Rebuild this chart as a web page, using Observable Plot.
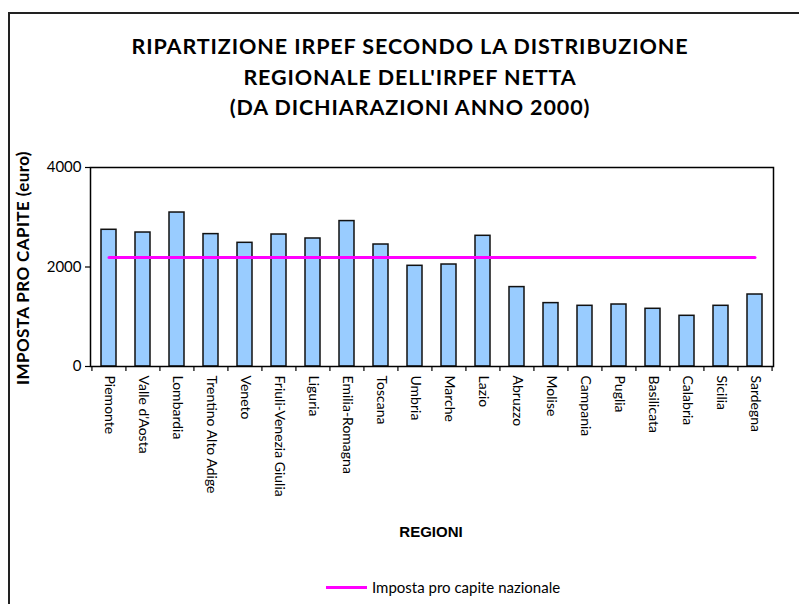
<!DOCTYPE html>
<html>
<head>
<meta charset="utf-8">
<script src="https://cdn.jsdelivr.net/npm/d3@7"></script>
<script src="https://cdn.jsdelivr.net/npm/@observablehq/plot@0.6"></script>
<style>
  html, body { margin: 0; padding: 0; background: #fff; }
  #wrap { position: relative; width: 799px; height: 604px; overflow: hidden; background: #fff; }
  #border { position: absolute; left: 8px; top: 12px; width: 900px; height: 700px; border: 2px solid #222; box-sizing: border-box; }
  #title { position: absolute; left: 60px; width: 700px; top: 31px; text-align: center; font-family: Lato, "Open Sans", sans-serif; font-weight: bold; font-size: 21.5px; letter-spacing: 0.9px; line-height: 30.5px; color: #000; }
  #ylab { position: absolute; left: 22px; top: 268px; transform: translate(-50%, -50%) rotate(-90deg); white-space: nowrap; font-family: Lato, sans-serif; font-weight: bold; font-size: 17px; letter-spacing: 0.4px; color: #000; }
  #xlab { position: absolute; left: 431px; top: 531px; transform: translate(-50%, -50%); font-family: "Liberation Sans", Arial, sans-serif; font-weight: bold; font-size: 15px; color: #000; }
  #legend { position: absolute; left: 326px; top: 578px; display: flex; align-items: center; font-family: Lato, sans-serif; font-size: 15px; color: #000; }
  #legend .sw { width: 41px; height: 3px; background: #FF00FF; margin-right: 5px; }
  #chart { position: absolute; left: 0; top: 0; }
</style>
</head>
<body>
<div id="wrap">
  <div id="border"></div>
  <div id="title">RIPARTIZIONE IRPEF SECONDO LA DISTRIBUZIONE<br>REGIONALE DELL'IRPEF NETTA<br>(DA DICHIARAZIONI ANNO 2000)</div>
  <div id="chart"></div>
  <div id="ylab">IMPOSTA PRO CAPITE (euro)</div>
  <div id="xlab">REGIONI</div>
  <div id="legend"><div class="sw"></div><span>Imposta pro capite nazionale</span></div>
</div>
<script>
const regions = ["Piemonte", "Valle d'Aosta", "Lombardia", "Trentino Alto Adige", "Veneto",
  "Friuli-Venezia Giulia", "Liguria", "Emilia-Romagna", "Toscana", "Umbria", "Marche", "Lazio",
  "Abruzzo", "Molise", "Campania", "Puglia", "Basilicata", "Calabria", "Sicilia", "Sardegna"];
const imposta = [2748, 2693, 3095, 2661, 2486, 2653, 2573, 2923, 2452, 2024, 2050, 2627,
  1596, 1274, 1220, 1246, 1160, 1019, 1220, 1447];
const nazionale = 2191;
const yTicks = [0, 2000, 4000];

const data = regions.map((r, i) => ({region: r, value: imposta[i], naz: nazionale}));

const W = 799, H = 520, mL = 90, mR = 26, mT = 167, mB = 154;
const step = (W - mL - mR) / regions.length;

const chart = Plot.plot({
  width: W, height: H,
  marginLeft: mL, marginRight: mR, marginTop: mT, marginBottom: mB,
  style: {fontFamily: "Lato, sans-serif", fontSize: "14px", color: "#000", background: "transparent"},
  x: {type: "band", domain: regions, paddingInner: 0.56, paddingOuter: 0.28},
  y: {domain: [0, 4000]},
  marks: [
    Plot.barY(data, {x: "region", y: "value", fill: "#99CCFF", stroke: "#111", strokeWidth: 1.5}),
    Plot.line(data, {x: "region", y: "naz", stroke: "#FF00FF", strokeWidth: 3}),
    Plot.frame({stroke: "#000", strokeWidth: 1.5}),
    Plot.axisY(yTicks, {tickSize: 5, label: null, tickPadding: 4, fontSize: 15, tickFormat: d => String(d), stroke: "#000", strokeWidth: 1.2}),
    Plot.axisX(regions, {tickSize: 5, tickFormat: () => "", label: null, dx: -step / 2, stroke: "#000", strokeWidth: 1.2}),
    Plot.axisX([regions[regions.length - 1]], {tickSize: 5, tickFormat: () => "", label: null, dx: step / 2, stroke: "#000", strokeWidth: 1.2}),
    Plot.axisX(regions, {tickSize: 0, tickRotate: 90, tickPadding: 9, label: null, fontSize: 14})
  ]
});
document.getElementById("chart").appendChild(chart);
</script>
</body>
</html>
